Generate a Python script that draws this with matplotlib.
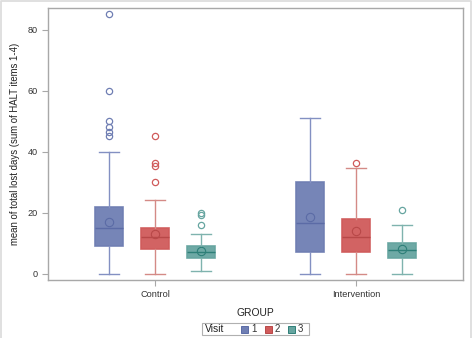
import matplotlib
matplotlib.use("Agg")
import matplotlib.pyplot as plt
from matplotlib.patches import Rectangle
from matplotlib.lines import Line2D
import numpy as np

plt.rcParams["font.family"] = ["Liberation Sans", "DejaVu Sans"]

groups = ["Control", "Intervention"]
visits = ["1", "2", "3"]

# box summaries per group, one entry per visit
whislo = [[0, 0, 1], [0, 0, 0]]
q1 = [[9, 8, 5], [7, 7, 5]]
med = [[15, 12, 7], [16.5, 12, 7.7]]
q3 = [[22, 15, 9], [30, 18, 10]]
whishi = [[40, 24, 13], [51, 34.5, 16]]
means = [[17, 13, 7.5], [18.5, 14, 8]]
outliers = [
    [[85, 60, 50, 48, 46.5, 45], [45, 36.3, 35.3, 30], [20, 19.2, 16]],
    [[], [36.2], [21]],
]

fill_cols = ["#6F7EB3", "#D05B5B", "#66A5A0"]
line_cols = ["#5B6BA6", "#B84848", "#2E7F78"]
whisk_cols = ["#8390C2", "#D48A86", "#7FB3AE"]

W, H = 472, 338
fig = plt.figure(figsize=(W / 100, H / 100), dpi=100)
ax = fig.add_axes([48 / W, (H - 280) / H, 415 / W, 272 / H])

offset = 0.229
width = 0.139
for g in range(len(groups)):
    for v in range(len(visits)):
        pos = g + (v - 1) * offset
        st = [dict(whislo=whislo[g][v], q1=q1[g][v], med=med[g][v], q3=q3[g][v],
                   whishi=whishi[g][v], mean=means[g][v], fliers=outliers[g][v])]
        ax.bxp(st, positions=[pos], widths=width, patch_artist=True, showmeans=True,
               meanline=False, capwidths=width * 0.72,
               boxprops=dict(facecolor=fill_cols[v], edgecolor=fill_cols[v], linewidth=1.2, alpha=0.95),
               medianprops=dict(color=line_cols[v], linewidth=1.0),
               whiskerprops=dict(color=whisk_cols[v], linewidth=1.0),
               capprops=dict(color=whisk_cols[v], linewidth=1.0),
               meanprops=dict(marker="o", markerfacecolor="none", markeredgecolor=line_cols[v],
                              markersize=6, markeredgewidth=0.8),
               flierprops=dict(marker="o", markerfacecolor="none", markeredgecolor=fill_cols[v],
                               markersize=4.5, markeredgewidth=0.9))

ax.set_xlim(-0.532, 1.532)
ax.set_ylim(-2.1, 87.1)
ax.set_xticks([0, 1])
ax.set_xticklabels(groups)
ax.set_yticks([0, 20, 40, 60, 80])
for s in ax.spines.values():
    s.set_color("#A8A8A8")
    s.set_linewidth(1.0)
ax.tick_params(colors="#A8A8A8", labelcolor="#333333", labelsize=6.6, length=4, width=0.8)
ax.set_xlabel("GROUP", fontsize=7.4, color="#222222", labelpad=6)
ax.set_ylabel("mean of total lost days (sum of HALT items 1-4)", fontsize=6.9, color="#222222", labelpad=5)

# legend drawn by hand: "Visit" then a swatch per visit
def fx(px):
    return px / W

def fy(py):
    return 1 - py / H

fig.patches.append(Rectangle((fx(202), fy(335)), fx(107), 12.5 / H, transform=fig.transFigure,
                             fill=False, edgecolor="#B0B0B0", linewidth=0.8))
fig.text(fx(205), fy(329), "Visit", fontsize=7.4, color="#222222", va="center", ha="left")
for i, lab in enumerate(visits):
    x0 = 241 + i * 23.5
    fig.patches.append(Rectangle((fx(x0), fy(332.5)), 7 / W, 7 / H, transform=fig.transFigure,
                                 facecolor=fill_cols[i], edgecolor=line_cols[i], linewidth=0.7))
    fig.text(fx(x0 + 10), fy(329), lab, fontsize=7, color="#333333", va="center", ha="left")

# thin frame on the left, top and right of the image
fig.lines.append(Line2D([fx(0.5), fx(0.5), fx(470.5), fx(470.5)], [0, fy(0.8), fy(0.8), 0],
                        transform=fig.transFigure, color="#DDDDDD", linewidth=1.3))
fig.savefig("out.png", dpi=100)
